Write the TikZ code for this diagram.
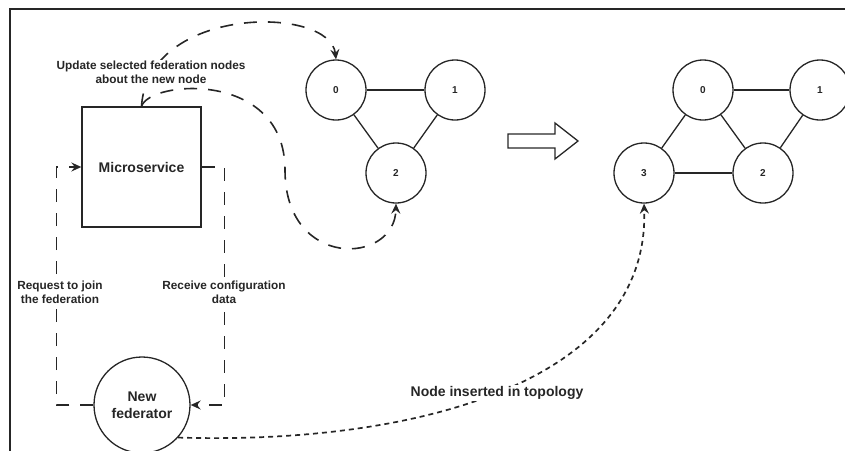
\documentclass[tikz,border=0pt]{standalone}
\usepackage{fontspec}
\setmainfont{Liberation Sans}
\usepackage{tikz}
\usetikzlibrary{arrows.meta}
\definecolor{ink}{HTML}{262626}

\begin{document}
\begin{tikzpicture}[
  x=1pt, y=-1pt,
  peer/.style={draw=ink, circle, line width=1.3pt, minimum size=60pt, inner sep=0pt,
    fill=white, text=ink, font=\bfseries\fontsize{10}{12}\selectfont},
  svc/.style={draw=ink, line width=1.3pt, minimum width=119pt, minimum height=120pt,
    inner sep=0pt, text=ink, font=\bfseries\fontsize{14}{17}\selectfont},
  newfed/.style={peer, minimum size=96pt, align=center,
    font=\bfseries\fontsize{14}{17}\selectfont},
  lbl/.style={text=ink, font=\bfseries\fontsize{11.8}{14}\selectfont, align=center,
    fill=white, inner sep=1pt},
  biglbl/.style={lbl, font=\bfseries\fontsize{14}{17}\selectfont},
  link/.style={draw=ink, line width=1.3pt},
  tip/.style={-{Stealth[length=10pt, width=9pt, inset=3.5pt]}},
  dsh/.style={draw=ink, line width=1.6pt, dash pattern=on 13pt off 11pt, tip},
  dots/.style={draw=ink, line width=1.7pt, dash pattern=on 5pt off 4pt, tip}
]
  \useasboundingbox (0,0) rectangle (845,450);
  \draw[ink, line width=2pt] (10,452) -- (10,9) -- (847,9);

  % left part
  \node[svc] (ms) at (141.5,167) {Microservice};
  \node[newfed] (fed) at (142,405) {New\\federator};

  % topology before
  \node[peer] (o0) at (336,90) {0};
  \node[peer] (o1) at (455,90) {1};
  \node[peer] (o2) at (396,173) {2};
  \draw[link] (o0) -- (o1);
  \draw[link] (o0) -- (o2);
  \draw[link] (o1) -- (o2);

  % topology after
  \node[peer] (n0) at (703,90) {0};
  \node[peer] (n1) at (820,90) {1};
  \node[peer] (n3) at (644,173) {3};
  \node[peer] (n2) at (763,173) {2};
  \draw[link] (n0) -- (n1);
  \draw[link] (n0) -- (n3);
  \draw[link] (n0) -- (n2);
  \draw[link] (n1) -- (n2);
  \draw[link] (n3) -- (n2);

  % block arrow
  \draw[ink, line width=1.3pt, line join=miter]
    (508,134) -- (555,134) -- (555,123) -- (578,141) -- (555,159) -- (555,148) -- (508,148) -- cycle;

  \coordinate (bend) at (285,170);
  \draw[dsh] (ms.north) .. controls (148,5) and (330,5) .. (o0.north);
  \draw[dsh] (ms.north) .. controls (150,80) and (285,70) .. (bend)
    .. controls (285,270) and (395,265) .. (o2.south);
  \draw[dsh] (fed.west) -- ++(-37,0) |- (ms.west);
  \draw[dsh] (ms.east) -- ++(23,0) |- (fed.east);
  \draw[dots] (fed.-42) .. controls (420,445) and (650,380) .. (n3.south);

  \node[lbl] (upd) at (151,72) {Update selected federation nodes\\about the new node};
  \node[lbl] (req) at (60,292) {Request to join\\the federation};
  \node[lbl] (rcv) at (224,292) {Receive configuration\\data};
  \node[biglbl] (ins) at (497,393) {Node inserted in topology};
\end{tikzpicture}
\end{document}
